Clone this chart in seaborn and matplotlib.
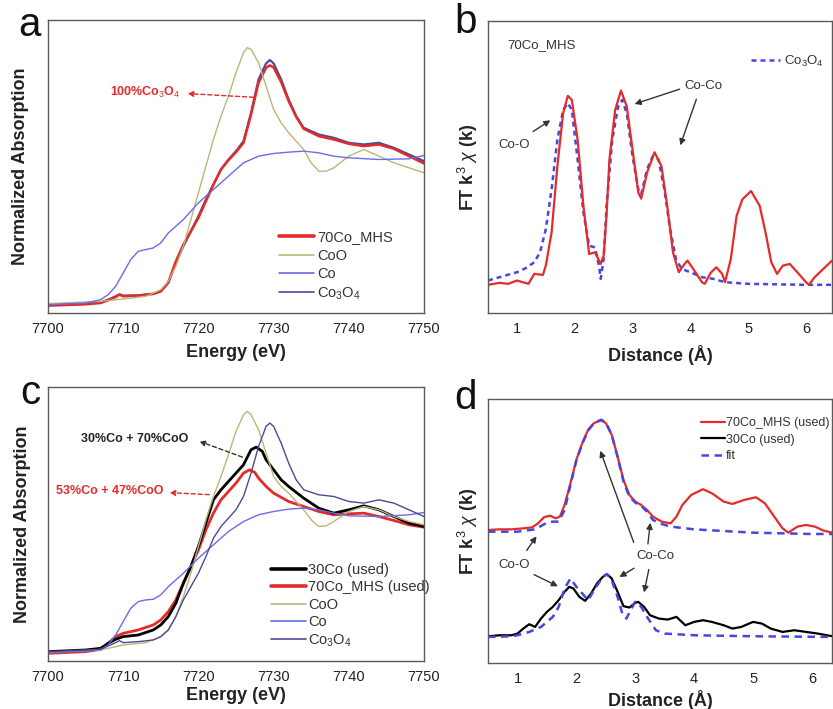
import matplotlib
matplotlib.use("Agg")
import matplotlib.pyplot as plt
import seaborn as sns
import numpy as np

sns.set_style("white")
plt.rcParams['font.family'] = ['Liberation Sans', 'DejaVu Sans']
plt.rcParams['mathtext.fontset'] = 'custom'
plt.rcParams['mathtext.rm'] = 'Liberation Sans'
plt.rcParams['mathtext.it'] = 'Liberation Sans:italic'
plt.rcParams['mathtext.bf'] = 'Liberation Sans:bold'

# ---------------- colours ----------------
RED = '#e32b2b'
COO = '#bab67a'
CO = '#6b6bea'
CO3O4 = '#4b4b94'
FIT = '#4646e0'
FRAME = '#5a5a5a'

# ---------------- panel a (XANES) ----------------
a_co3o4_x = [7700, 7705, 7707, 7708, 7709, 7709.5, 7710, 7712, 7714, 7715, 7716, 7717, 7718, 7719, 7720,
             7721, 7722, 7723, 7724, 7725, 7726, 7727, 7728, 7729, 7729.5, 7730, 7731, 7732, 7733, 7734,
             7736, 7738, 7740, 7742, 7744, 7746, 7748, 7750]
a_co3o4_y = [0.25, 0.28, 0.32, 0.40, 0.50, 0.56, 0.52, 0.53, 0.58, 0.65, 0.90, 1.50, 2.00, 2.45, 2.90,
             3.40, 3.85, 4.30, 4.60, 4.85, 5.15, 6.00, 7.00, 7.48, 7.58, 7.48, 7.00, 6.40, 5.90, 5.55,
             5.35, 5.25, 5.10, 5.05, 5.10, 4.95, 4.75, 4.55]
a_mhs_y = [0.22, 0.26, 0.30, 0.38, 0.48, 0.55, 0.50, 0.52, 0.57, 0.65, 0.92, 1.55, 2.05, 2.45, 2.85,
           3.35, 3.85, 4.30, 4.58, 4.82, 5.10, 5.95, 6.90, 7.35, 7.42, 7.36, 6.92, 6.35, 5.88, 5.52,
           5.30, 5.20, 5.07, 5.00, 5.05, 4.92, 4.70, 4.48]
a_coo_x = [7700, 7707, 7710, 7713, 7715, 7716, 7717, 7718, 7719, 7720, 7721, 7722, 7723, 7724, 7725,
           7726, 7726.5, 7727, 7728, 7729, 7730, 7731, 7732, 7734, 7735, 7736, 7737, 7738, 7740, 7742,
           7744, 7746, 7748, 7750]
a_coo_y = [0.28, 0.35, 0.42, 0.50, 0.70, 0.95, 1.40, 2.00, 2.80, 3.60, 4.40, 5.20, 5.90, 6.50, 7.20,
           7.80, 7.95, 7.90, 7.50, 6.80, 6.10, 5.70, 5.40, 4.90, 4.50, 4.25, 4.25, 4.35, 4.70, 4.90,
           4.70, 4.50, 4.35, 4.20]
a_co_x = [7700, 7705, 7707, 7708, 7709, 7710, 7711, 7712, 7713, 7714, 7715, 7716, 7718, 7720, 7722,
          7724, 7726, 7728, 7730, 7732, 7734, 7736, 7738, 7740, 7744, 7748, 7750]
a_co_y = [0.25, 0.30, 0.40, 0.55, 0.80, 1.20, 1.60, 1.85, 1.90, 1.95, 2.10, 2.40, 2.80, 3.30, 3.70,
          4.10, 4.50, 4.70, 4.78, 4.82, 4.85, 4.80, 4.70, 4.65, 4.60, 4.62, 4.72]

# ---------------- panel b (FT-EXAFS fresh) ----------------
b_mhs_x = [0.5, 0.7, 0.85, 1.0, 1.1, 1.2, 1.3, 1.45, 1.5, 1.6, 1.7, 1.8, 1.88, 1.95, 2.05, 2.15, 2.25,
           2.35, 2.45, 2.5, 2.55, 2.6, 2.7, 2.8, 2.9, 3.0, 3.1, 3.15, 3.25, 3.38, 3.5, 3.6, 3.7, 3.8,
           3.9, 3.95, 4.05, 4.2, 4.25, 4.35, 4.45, 4.55, 4.6, 4.7, 4.8, 4.9, 5.05, 5.2, 5.3, 5.4, 5.5,
           5.6, 5.72, 5.85, 6.0, 6.05, 6.15, 6.3, 6.45]
b_mhs_y = [0.85, 0.91, 0.88, 0.98, 0.93, 0.88, 1.18, 1.15, 1.43, 2.43, 4.43, 6.03, 6.55, 6.43, 5.23,
           3.23, 1.78, 1.83, 1.48, 1.73, 2.93, 4.63, 6.13, 6.71, 6.23, 4.93, 3.63, 3.45, 4.23, 4.85,
           4.43, 3.23, 1.83, 1.23, 1.48, 1.58, 1.33, 0.93, 0.88, 1.21, 1.38, 1.18, 0.93, 1.63, 2.93,
           3.43, 3.68, 3.23, 2.43, 1.53, 1.18, 1.43, 1.48, 1.23, 0.93, 0.85, 1.08, 1.33, 1.58]
b_co3o4_x = [0.5, 0.8, 1.0, 1.15, 1.3, 1.4, 1.5, 1.6, 1.7, 1.8, 1.88, 1.95, 2.05, 2.15, 2.25, 2.35,
             2.42, 2.45, 2.5, 2.55, 2.65, 2.75, 2.82, 2.9, 3.0, 3.1, 3.15, 3.25, 3.35, 3.45, 3.55,
             3.65, 3.75, 3.85, 4.0, 4.2, 4.4, 4.6, 5.0, 6.0, 6.45]
b_co3o4_y = [0.98, 1.13, 1.23, 1.35, 1.53, 1.83, 2.53, 3.73, 5.23, 6.13, 6.33, 6.13, 4.63, 3.03,
             2.03, 1.98, 1.43, 1.03, 1.63, 3.23, 5.23, 6.23, 6.43, 6.03, 4.73, 3.73, 3.58, 4.33,
             4.73, 4.63, 3.73, 2.53, 1.63, 1.33, 1.23, 1.08, 1.03, 0.93, 0.88, 0.85, 0.85]

# ---------------- panel c (XANES used) ----------------
c_30co_x = [7700, 7705, 7707, 7708, 7709, 7710, 7712, 7714, 7715, 7716, 7717, 7718, 7719, 7720, 7721,
            7722, 7723, 7724, 7725, 7726, 7727, 7727.7, 7728.5, 7729, 7730, 7731, 7732, 7734, 7736,
            7738, 7740, 7742, 7744, 7746, 7748, 7750]
c_30co_y = [0.28, 0.33, 0.38, 0.53, 0.65, 0.73, 0.78, 0.93, 1.08, 1.33, 1.73, 2.33, 2.83, 3.43, 4.13,
            4.83, 5.13, 5.38, 5.63, 5.88, 6.33, 6.41, 6.28, 6.03, 5.73, 5.43, 5.23, 4.88, 4.58, 4.43,
            4.53, 4.65, 4.53, 4.33, 4.13, 4.03]
c_mhs_x = [7700, 7705, 7707, 7708, 7709, 7710, 7712, 7714, 7715, 7716, 7717, 7718, 7719, 7720, 7721,
           7722, 7723, 7724, 7725, 7726, 7726.8, 7727.5, 7728, 7729, 7730, 7732, 7734, 7736, 7738,
           7740, 7742, 7744, 7746, 7748, 7750]
c_mhs_y = [0.23, 0.28, 0.35, 0.53, 0.73, 0.83, 0.93, 1.08, 1.23, 1.48, 1.83, 2.33, 2.83, 3.33, 3.93,
           4.43, 4.83, 5.08, 5.33, 5.63, 5.73, 5.65, 5.48, 5.23, 5.03, 4.78, 4.63, 4.48, 4.38, 4.41,
           4.43, 4.33, 4.21, 4.08, 4.01]
c_coo_y = [0.25, 0.33, 0.48, 0.55, 0.73, 0.93, 1.33, 1.93, 2.63, 3.43, 4.23, 4.93, 5.53, 6.18, 6.88,
           7.38, 7.48, 7.38, 6.93, 6.23, 5.53, 5.23, 5.03, 4.53, 4.23, 4.03, 4.05, 4.18, 4.48, 4.63,
           4.53, 4.33, 4.18, 4.08]
c_co_y = [0.25, 0.30, 0.35, 0.48, 0.78, 1.18, 1.58, 1.78, 1.83, 1.85, 1.98, 2.23, 2.63, 3.08, 3.48,
          3.88, 4.18, 4.38, 4.48, 4.55, 4.58, 4.53, 4.43, 4.35, 4.33, 4.38, 4.45]
c_co3o4_x = [7700, 7707, 7709, 7709.5, 7710, 7712, 7714, 7715, 7716, 7717, 7718, 7719, 7720, 7721,
             7722, 7723, 7724, 7725, 7726, 7727, 7728, 7729, 7729.5, 7730, 7731, 7732, 7733, 7734,
             7736, 7738, 7740, 7742, 7744, 7746, 7748, 7750]
c_co3o4_y = [0.28, 0.35, 0.55, 0.61, 0.55, 0.58, 0.63, 0.73, 0.93, 1.33, 1.83, 2.23, 2.63, 3.13, 3.68,
             4.03, 4.28, 4.53, 4.93, 5.63, 6.43, 7.03, 7.13, 7.03, 6.53, 5.93, 5.43, 5.13, 4.98, 4.93,
             4.78, 4.73, 4.83, 4.73, 4.53, 4.33]

# ---------------- panel d (FT-EXAFS used) ----------------
d_mhs_x = [0.5, 0.7, 0.9, 1.1, 1.25, 1.35, 1.45, 1.55, 1.65, 1.72, 1.8, 1.9, 2.0, 2.1, 2.2, 2.3, 2.42,
           2.5, 2.6, 2.7, 2.8, 2.9, 3.0, 3.1, 3.2, 3.3, 3.45, 3.6, 3.7, 3.8, 3.95, 4.15, 4.3, 4.5, 4.65,
           4.85, 5.05, 5.2, 5.4, 5.5, 5.6, 5.75, 5.9, 6.05, 6.2, 6.35]
d_mhs_y = [3.98, 4.00, 4.00, 4.03, 4.06, 4.18, 4.36, 4.41, 4.33, 4.38, 4.73, 5.38, 6.08, 6.58, 6.98,
           7.18, 7.26, 7.18, 6.83, 6.18, 5.48, 5.03, 4.83, 4.73, 4.58, 4.38, 4.23, 4.18, 4.38, 4.73,
           5.03, 5.20, 5.08, 4.83, 4.76, 4.88, 4.96, 4.78, 4.28, 4.03, 3.90, 4.08, 4.13, 4.08, 3.96, 3.90]
d_fit1_x = [0.5, 1.0, 1.3, 1.4, 1.5, 1.6, 1.7, 1.8, 1.9, 2.0, 2.1, 2.2, 2.3, 2.42, 2.5, 2.6, 2.7, 2.8,
            2.9, 3.0, 3.1, 3.2, 3.3, 3.45, 3.6, 4.0, 5.0, 6.0, 6.35]
d_fit1_y = [3.93, 3.93, 4.00, 4.10, 4.20, 4.23, 4.23, 4.58, 5.33, 6.06, 6.56, 6.96, 7.18, 7.28, 7.20,
            6.83, 6.16, 5.43, 4.98, 4.80, 4.70, 4.53, 4.28, 4.16, 4.08, 4.00, 3.90, 3.86, 3.86]
d_30co_x = [0.5, 0.7, 0.9, 1.0, 1.1, 1.2, 1.3, 1.4, 1.5, 1.6, 1.7, 1.8, 1.88, 1.95, 2.05, 2.15, 2.25,
            2.35, 2.45, 2.52, 2.6, 2.7, 2.8, 2.9, 3.0, 3.05, 3.15, 3.25, 3.4, 3.55, 3.7, 3.85, 4.0,
            4.15, 4.3, 4.5, 4.65, 4.8, 5.0, 5.15, 5.3, 5.5, 5.7, 5.9, 6.1, 6.35]
d_30co_y = [0.80, 0.83, 0.83, 0.88, 1.03, 1.16, 1.08, 1.33, 1.53, 1.68, 1.88, 2.13, 2.28, 2.23, 1.98,
            1.86, 2.08, 2.38, 2.58, 2.66, 2.53, 2.13, 1.70, 1.66, 1.80, 1.83, 1.68, 1.43, 1.33, 1.30,
            1.38, 1.13, 1.23, 1.28, 1.23, 1.13, 1.03, 1.08, 1.23, 1.18, 1.03, 0.93, 0.98, 0.93, 0.88, 0.80]
d_fit2_x = [0.5, 0.9, 1.0, 1.2, 1.4, 1.6, 1.7, 1.8, 1.9, 2.0, 2.1, 2.2, 2.3, 2.45, 2.52, 2.6, 2.7,
            2.78, 2.85, 2.92, 3.0, 3.1, 3.2, 3.35, 3.5, 4.0, 5.0, 6.35]
d_fit2_y = [0.78, 0.80, 0.83, 0.93, 1.08, 1.38, 1.68, 2.23, 2.53, 2.28, 2.08, 1.88, 2.18, 2.58, 2.66,
            2.48, 1.98, 1.48, 1.33, 1.58, 1.83, 1.68, 1.38, 0.98, 0.88, 0.83, 0.80, 0.78]

energy_ticks = [7700, 7710, 7720, 7730, 7740, 7750]
dist_ticks = [1, 2, 3, 4, 5, 6]

W, H = 833, 709
fig = plt.figure(figsize=(W / 100, H / 100), dpi=100)


def add_ax(l, t, r, b):
    return fig.add_axes([l / W, 1 - b / H, (r - l) / W, (b - t) / H])


axa = add_ax(48, 20, 424, 313)
axb = add_ax(488, 21, 832, 313)
axc = add_ax(48, 387, 424, 661)
axd = add_ax(488, 399, 832, 663)


def style(ax, xticks, minor, xlim, ylim, xlabel, ylabel, ylx, xly):
    ax.set_xlim(*xlim)
    ax.set_ylim(*ylim)
    ax.set_xticks(xticks)
    ax.set_xticks(minor, minor=True)
    ax.set_yticks([])
    for s in ax.spines.values():
        s.set_color(FRAME)
        s.set_linewidth(1.0)
    ax.tick_params(axis='x', which='major', direction='out', length=4, width=1,
                   color=FRAME, labelsize=10.5, pad=2.5, labelcolor='#222222')
    ax.tick_params(axis='x', which='minor', direction='out', length=2.5, width=0.8, color=FRAME)
    ax.set_xlabel(xlabel, fontsize=13, fontweight='bold', color='#222222')
    ax.set_ylabel(ylabel, fontsize=13, fontweight='bold', color='#222222')
    ax.xaxis.label.set_va('center')
    ax.yaxis.label.set_va('center')
    ax.xaxis.set_label_coords(0.5, xly)
    ax.yaxis.set_label_coords(ylx, 0.5)
    ax.set_facecolor('white')


e_minor = [7705, 7715, 7725, 7735, 7745]
d_minor = [0.5, 1.5, 2.5, 3.5, 4.5, 5.5]

# ---- a ----
sns.lineplot(x=a_co3o4_x, y=a_co3o4_y, ax=axa, color=CO3O4, linewidth=1.6, label='_n', sort=False)
sns.lineplot(x=a_co3o4_x, y=a_mhs_y, ax=axa, color=RED, linewidth=1.8, label='_n', sort=False)
sns.lineplot(x=a_coo_x, y=a_coo_y, ax=axa, color=COO, linewidth=1.0, label='_n', sort=False)
sns.lineplot(x=a_co_x, y=a_co_y, ax=axa, color=CO, linewidth=1.0, label='_n', sort=False)
style(axa, energy_ticks, e_minor, (7700, 7750), (0, 8.78), 'Energy (eV)', 'Normalized Absorption',
      -0.072, -0.135)
ha = [plt.Line2D([], [], color=RED, lw=2.6), plt.Line2D([], [], color=COO, lw=1.2),
      plt.Line2D([], [], color=CO, lw=1.2), plt.Line2D([], [], color=CO3O4, lw=1.2)]
axa.legend(ha, ['70Co_MHS', 'CoO', 'Co', r'Co$_3$O$_4$'], loc='upper left',
           bbox_to_anchor=(272 / W, 1 - 223 / H), bbox_transform=fig.transFigure, frameon=False,
           fontsize=10.5, handlelength=2.4, handletextpad=0.2, labelspacing=0.3, borderpad=0,
           labelcolor='#333333')
axa.annotate('', xy=(7718.2, 6.58), xytext=(7727.7, 6.46),
             arrowprops=dict(arrowstyle='-|>', color=RED, lw=1.0, ls=(0, (3, 2)),
                             mutation_scale=8))
axa.text(7717.6, 6.61, r'100%Co$_3$O$_4$', color=RED, fontsize=9, fontweight='bold',
         ha='right', va='center')

# ---- b ----
sns.lineplot(x=b_co3o4_x, y=b_co3o4_y, ax=axb, color=FIT, linewidth=1.8, label='_n', sort=False)
axb.lines[-1].set_linestyle((0, (2, 1.6)))
sns.lineplot(x=b_mhs_x, y=b_mhs_y, ax=axb, color=RED, linewidth=1.6, label='_n', sort=False)
style(axb, dist_ticks, d_minor, (0.5, 6.45), (0, 8.81), 'Distance (Å)', r'FT k$^3$ $\chi$ (k)',
      -0.058, -0.144)
hb = [plt.Line2D([], [], color=FIT, lw=1.8, ls=(0, (2, 1.6)))]
axb.legend(hb, [r'Co$_3$O$_4$'], loc='upper left', bbox_to_anchor=(744 / W, 1 - 47 / H),
           bbox_transform=fig.transFigure, frameon=False, fontsize=9.5, handlelength=2.2,
           handletextpad=0.3, borderpad=0, labelcolor='#333333')
axb.text(0.84, 8.08, '70Co_MHS', fontsize=9.5, color='#333333', ha='left', va='center')
arr = dict(arrowstyle='-|>', color='#333333', lw=1.0, mutation_scale=9)
axb.text(0.95, 5.08, 'Co-O', fontsize=9.5, color='#333333', ha='center', va='center')
axb.annotate('', xy=(1.62, 5.86), xytext=(1.24, 5.43), arrowprops=arr)
axb.text(4.22, 6.85, 'Co-Co', fontsize=9.5, color='#333333', ha='center', va='center')
axb.annotate('', xy=(2.99, 6.28), xytext=(3.86, 6.78), arrowprops=arr)
axb.annotate('', xy=(3.81, 4.98), xytext=(4.12, 6.53), arrowprops=arr)

# ---- c ----
sns.lineplot(x=c_mhs_x, y=c_mhs_y, ax=axc, color=RED, linewidth=2.0, label='_n', sort=False)
sns.lineplot(x=c_30co_x, y=c_30co_y, ax=axc, color='black', linewidth=2.0, label='_n', sort=False)
sns.lineplot(x=a_coo_x, y=c_coo_y, ax=axc, color=COO, linewidth=1.0, label='_n', sort=False)
sns.lineplot(x=a_co_x, y=c_co_y, ax=axc, color=CO, linewidth=1.0, label='_n', sort=False)
sns.lineplot(x=c_co3o4_x, y=c_co3o4_y, ax=axc, color=CO3O4, linewidth=1.0, label='_n', sort=False)
style(axc, energy_ticks, e_minor, (7700, 7750), (0, 8.21), 'Energy (eV)', 'Normalized Absorption',
      -0.069, -0.125)
hc = [plt.Line2D([], [], color='black', lw=2.6), plt.Line2D([], [], color=RED, lw=2.6),
      plt.Line2D([], [], color=COO, lw=1.2), plt.Line2D([], [], color=CO, lw=1.2),
      plt.Line2D([], [], color=CO3O4, lw=1.2)]
axc.legend(hc, ['30Co (used)', '70Co_MHS (used)', 'CoO', 'Co', r'Co$_3$O$_4$'], loc='upper left',
           bbox_to_anchor=(264 / W, 1 - 556 / H), bbox_transform=fig.transFigure, frameon=False,
           fontsize=10.5, handlelength=2.4, handletextpad=0.15, labelspacing=0.22, borderpad=0,
           labelcolor='#333333')
axc.annotate('', xy=(7719.8, 6.61), xytext=(7726.2, 6.08),
             arrowprops=dict(arrowstyle='-|>', color='#333333', lw=1.0, ls=(0, (3, 2)),
                             mutation_scale=8))
axc.text(7718.7, 6.65, '30%Co + 70%CoO', color='#222222', fontsize=9, fontweight='bold',
         ha='right', va='center')
axc.annotate('', xy=(7715.8, 5.05), xytext=(7721.8, 4.98),
             arrowprops=dict(arrowstyle='-|>', color=RED, lw=1.0, ls=(0, (3, 2)),
                             mutation_scale=8))
axc.text(7715.3, 5.08, '53%Co + 47%CoO', color=RED, fontsize=9, fontweight='bold',
         ha='right', va='center')

# ---- d ----
sns.lineplot(x=d_mhs_x, y=d_mhs_y, ax=axd, color=RED, linewidth=1.6, label='_n', sort=False)
sns.lineplot(x=d_30co_x, y=d_30co_y, ax=axd, color='black', linewidth=1.6, label='_n', sort=False)
sns.lineplot(x=d_fit1_x, y=d_fit1_y, ax=axd, color=FIT, linewidth=1.8, label='_n', sort=False)
axd.lines[-1].set_linestyle((0, (3, 2.2)))
sns.lineplot(x=d_fit2_x, y=d_fit2_y, ax=axd, color=FIT, linewidth=1.8, label='_n', sort=False)
axd.lines[-1].set_linestyle((0, (3, 2.2)))
style(axd, dist_ticks, d_minor, (0.5, 6.34), (0, 7.90), 'Distance (Å)', r'FT k$^3$ $\chi$ (k)',
      -0.058, -0.14)
hd = [plt.Line2D([], [], color=RED, lw=1.6), plt.Line2D([], [], color='black', lw=1.6),
      plt.Line2D([], [], color=FIT, lw=1.8, ls=(0, (3, 2.2)))]
axd.legend(hd, ['70Co_MHS (used)', '30Co (used)', 'fit'], loc='upper left',
           bbox_to_anchor=(695 / W, 1 - 411 / H), bbox_transform=fig.transFigure, frameon=False,
           fontsize=9, handlelength=1.9, handletextpad=0.1, labelspacing=0.35, borderpad=0,
           labelcolor='#333333')
axd.text(0.94, 2.93, 'Co-O', fontsize=9.5, color='#333333', ha='center', va='center')
axd.annotate('', xy=(1.35, 3.86), xytext=(1.13, 3.30), arrowprops=arr)
axd.annotate('', xy=(1.73, 2.26), xytext=(1.24, 2.68), arrowprops=arr)
axd.text(3.34, 3.20, 'Co-Co', fontsize=9.5, color='#333333', ha='center', va='center')
axd.annotate('', xy=(2.39, 6.43), xytext=(2.99, 3.53), arrowprops=arr)
axd.annotate('', xy=(3.26, 4.28), xytext=(3.21, 3.48), arrowprops=arr)
axd.annotate('', xy=(2.69, 2.53), xytext=(3.02, 2.88), arrowprops=arr)
axd.annotate('', xy=(3.14, 2.03), xytext=(3.24, 2.88), arrowprops=arr)

# panel letters
for txt, px, py in [('a', 30, 25), ('b', 466, 22), ('c', 30, 393), ('d', 465, 398)]:
    fig.text(px / W, 1 - py / H, txt, fontsize=29, ha='center', va='center', color='#111111')

fig.savefig('out.png', dpi=100, facecolor='white')
